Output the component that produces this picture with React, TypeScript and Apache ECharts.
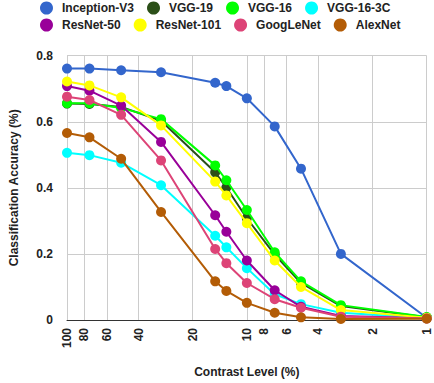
import React, { useEffect, useRef } from "react";
import * as echarts from "echarts";

const contrast = [100, 75, 50, 30, 15, 13, 10, 7, 5, 3, 1];
const xTicks = [100, 80, 60, 40, 20, 10, 8, 6, 4, 2, 1];

const inceptionV3 = [0.761, 0.761, 0.756, 0.75, 0.718, 0.708, 0.671, 0.586, 0.458, 0.2, 0.007];
const vgg19 = [0.655, 0.654, 0.645, 0.603, 0.447, 0.401, 0.308, 0.198, 0.112, 0.042, 0.008];
const vgg16 = [0.656, 0.656, 0.642, 0.608, 0.468, 0.423, 0.333, 0.205, 0.117, 0.045, 0.009];
const vgg163c = [0.506, 0.499, 0.476, 0.408, 0.255, 0.22, 0.157, 0.078, 0.048, 0.022, 0.006];
const resnet50 = [0.708, 0.694, 0.649, 0.539, 0.317, 0.267, 0.18, 0.09, 0.04, 0.012, 0.005];
const resnet101 = [0.722, 0.71, 0.674, 0.589, 0.419, 0.377, 0.293, 0.18, 0.1, 0.03, 0.007];
const googlenet = [0.676, 0.666, 0.621, 0.483, 0.215, 0.172, 0.112, 0.063, 0.037, 0.01, 0.005];
const alexnet = [0.566, 0.553, 0.488, 0.327, 0.117, 0.088, 0.052, 0.022, 0.008, 0.003, 0.004];

const seriesNames = ["Inception-V3", "VGG-19", "VGG-16", "VGG-16-3C", "ResNet-50", "ResNet-101", "GoogLeNet", "AlexNet"];
const seriesValues = [inceptionV3, vgg19, vgg16, vgg163c, resnet50, resnet101, googlenet, alexnet];
const colors = ["#3366cc", "#2b4f18", "#00ff00", "#00ffff", "#990099", "#ffff00", "#dd4477", "#b35c06"];

const FONT = "'Liberation Sans', Arial, sans-serif";

export default function App() {
  const ref = useRef<HTMLDivElement>(null);
  useEffect(() => {
    if (!ref.current) return;
    const chart = echarts.init(ref.current, undefined, { renderer: "svg" });
    const legendBase = {
      left: 40,
      orient: "horizontal" as const,
      icon: "circle",
      itemWidth: 21,
      itemHeight: 13,
      itemGap: 13,
      padding: 0,
      textStyle: { fontFamily: FONT, fontWeight: "bold" as const, fontSize: 12, color: "#222" },
    };
    chart.setOption({
      animation: false,
      color: colors,
      textStyle: { fontFamily: FONT },
      legend: [
        { ...legendBase, top: 1.5, data: seriesNames.slice(0, 4) },
        { ...legendBase, top: 18.5, data: seriesNames.slice(4) },
      ],
      grid: { left: 65.7, right: 7.3, top: 55.7, bottom: 61.3, containLabel: false },
      xAxis: {
        type: "log",
        logBase: 10,
        min: 1,
        max: 100,
        inverse: true,
        name: "Contrast Level (%)",
        nameLocation: "middle",
        nameGap: 46,
        nameTextStyle: { fontFamily: FONT, fontWeight: "bold", fontSize: 12, color: "#222" },
        axisLine: { show: true, lineStyle: { color: "#333", width: 1 } },
        axisTick: { show: false, customValues: xTicks },
        axisLabel: {
          customValues: xTicks,
          rotate: 90,
          margin: 8,
          fontFamily: FONT,
          fontWeight: "bold",
          fontSize: 12,
          color: "#222",
          formatter: (v: number) => String(Math.round(v)),
        },
        splitLine: { show: true, lineStyle: { color: "#cccccc", width: 1 } },
      },
      yAxis: {
        type: "value",
        min: 0,
        max: 0.8,
        interval: 0.2,
        name: "Classification Accuracy (%)",
        nameLocation: "middle",
        nameGap: 47,
        nameTextStyle: { fontFamily: FONT, fontWeight: "bold", fontSize: 12, color: "#222" },
        axisLine: { show: false },
        axisTick: { show: false },
        axisLabel: {
          margin: 14,
          fontFamily: FONT,
          fontWeight: "bold",
          fontSize: 12,
          color: "#222",
          formatter: (v: number) => (v === 0 ? "0" : String(Math.round(v * 10) / 10)),
        },
        splitLine: { show: true, lineStyle: { color: "#cccccc", width: 1 } },
      },
      series: seriesNames.map((name, i) => ({
        name,
        type: "line",
        data: contrast.map((c, j) => [c, seriesValues[i][j]]),
        symbol: "circle",
        symbolSize: 10,
        showSymbol: true,
        lineStyle: { width: 2, color: colors[i] },
        itemStyle: { color: colors[i] },
        z: 2 + i,
      })),
    });
    return () => chart.dispose();
  }, []);
  return <div ref={ref} style={{ width: 434, height: 383, position: "absolute", left: 0, top: 0 }} />;
}
